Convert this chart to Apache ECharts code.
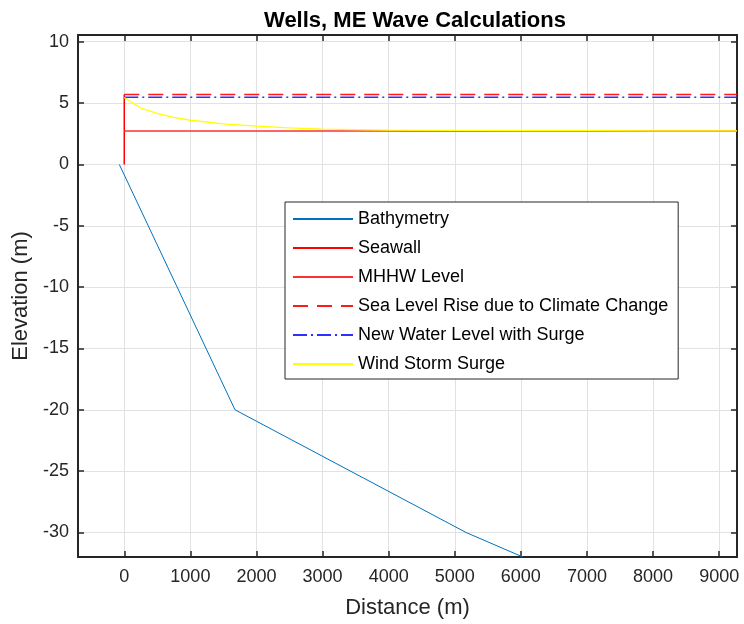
<!DOCTYPE html>
<html>
<head>
<meta charset="utf-8">
<script src="https://cdn.jsdelivr.net/npm/echarts@6/dist/echarts.min.js"></script>
<style>
  html, body { margin: 0; padding: 0; background: #fff; }
  #chart { width: 744px; height: 624px; }
</style>
</head>
<body>
<div id="chart"></div>
<script>
// values
const bathyX = [-75, 1675, 5170, 6030]
const bathyY = [0, -20, -30, -32]
const seawallX = [0, 0]
const seawallY = [0, 5.7]
const mhhwX = [0, 9270]
const mhhwY = [2.72, 2.72]
const slrX = [0, 9270]
const slrY = [5.7, 5.7]
const surgeLevelX = [0, 9270]
const surgeLevelY = [5.48, 5.48]
const windX = [0, 250, 500, 750, 1000, 1500, 2000, 2500, 3000, 4000, 5000, 6000, 7000, 8000, 9270]
const windY = [5.45, 4.6, 4.16, 3.83, 3.6, 3.3, 3.12, 2.98, 2.88, 2.8, 2.77, 2.76, 2.75, 2.74, 2.73]

const xTicks = [0, 1000, 2000, 3000, 4000, 5000, 6000, 7000, 8000, 9000]
const yTicks = [-30, -25, -20, -15, -10, -5, 0, 5, 10]

const names = ['Bathymetry', 'Seawall', 'MHHW Level', 'Sea Level Rise due to Climate Change',
  'New Water Level with Surge', 'Wind Storm Surge']

const FONT = '"Liberation Sans", Arial, Helvetica, sans-serif'
const INK = '#262626'

function pairs (xs, ys) {
  return xs.map((x, i) => [x, ys[i]])
}

function makeLine (name, xs, ys, color, type, width) {
  return {
    type: 'line',
    name: name,
    data: pairs(xs, ys),
    symbol: 'none',
    showSymbol: false,
    animation: false,
    clip: true,
    lineStyle: { color: color, width: width, type: type },
    itemStyle: { color: color }
  }
}

function baseAxis (min, max, ticks) {
  return {
    type: 'value',
    min: min,
    max: max,
    axisLine: { show: true, onZero: false, lineStyle: { color: INK, width: 2 } },
    axisTick: { show: true, inside: true, length: 6, customValues: ticks, lineStyle: { color: INK, width: 1.5 } },
    axisLabel: { show: false, customValues: ticks },
    splitLine: { show: false }
  }
}

const chart = echarts.init(document.getElementById('chart'), null, { renderer: 'canvas' })

const xMain = baseAxis(-700, 9270, xTicks)
xMain.position = 'bottom'
xMain.axisLabel = {
  show: true, customValues: xTicks, color: INK, fontSize: 18, fontFamily: FONT, margin: 11,
  formatter: v => String(v)
}
xMain.splitLine = { show: true, lineStyle: { color: '#e2e2e2', width: 1 } }
xMain.name = 'Distance (m)'
xMain.nameLocation = 'middle'
xMain.nameGap = 40
xMain.nameTextStyle = { color: INK, fontSize: 22, fontFamily: FONT }

const xTop = baseAxis(-700, 9270, xTicks)
xTop.position = 'top'

const yMain = baseAxis(-32, 10.55, yTicks)
yMain.position = 'left'
yMain.axisLabel = {
  show: true, customValues: yTicks, color: INK, fontSize: 18, fontFamily: FONT, margin: 9,
  formatter: v => String(v)
}
yMain.splitLine = { show: true, lineStyle: { color: '#e2e2e2', width: 1 } }
yMain.name = 'Elevation (m)'
yMain.nameLocation = 'middle'
yMain.nameGap = 46
yMain.nameTextStyle = { color: INK, fontSize: 22, fontFamily: FONT }

const yRight = baseAxis(-32, 10.55, yTicks)
yRight.position = 'right'

const option = {
  backgroundColor: '#ffffff',
  animation: false,
  title: {
    text: 'Wells, ME Wave Calculations',
    left: 410,
    textAlign: 'center',
    top: 5,
    textStyle: { color: '#000', fontSize: 22, fontWeight: 'bold', fontFamily: FONT }
  },
  grid: { left: 78, right: 7, top: 35, bottom: 67 },
  legend: {
    data: names,
    orient: 'vertical',
    left: 285,
    top: 202,
    padding: [8, 10, 6, 7],
    itemWidth: 60,
    itemHeight: 14,
    itemGap: 11,
    itemTextGap: 5,
    backgroundColor: '#ffffff',
    borderColor: INK,
    borderWidth: 1,
    borderRadius: 0,
    itemStyle: { opacity: 0 },
    textStyle: { color: '#000', fontSize: 18, fontFamily: FONT }
  },
  xAxis: [xMain, xTop],
  yAxis: [yMain, yRight],
  series: [
    makeLine(names[0], bathyX, bathyY, '#0072bd', 'solid', 1),
    makeLine(names[1], seawallX, seawallY, '#ff0000', 'solid', 1.5),
    makeLine(names[2], mhhwX, mhhwY, '#ff3030', 'solid', 1.5),
    makeLine(names[3], slrX, slrY, '#ff1a1a', [15, 9], 1.5),
    makeLine(names[4], surgeLevelX, surgeLevelY, '#2f2fff', [14, 4, 2, 4], 1.5),
    makeLine(names[5], windX, windY, '#ffff00', 'solid', 1.3)
  ]
}

chart.setOption(option)
</script>
</body>
</html>
